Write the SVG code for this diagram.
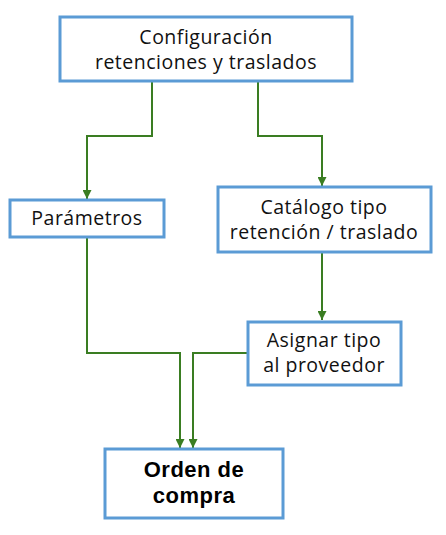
<svg xmlns="http://www.w3.org/2000/svg" width="446" height="535" viewBox="0 0 446 535">
<defs>
<style>
.box{fill:#fff;stroke:#5b9bd5;stroke-width:3}
.t{font-family:"Open Sans","Liberation Sans",sans-serif;font-size:19.5px;letter-spacing:0.5px;fill:#111;text-anchor:middle}
.b{font-family:"Liberation Sans",Arial,sans-serif;font-size:22px;letter-spacing:0.5px;font-weight:bold;fill:#000;text-anchor:middle}
.c{fill:none;stroke:#3a7d22;stroke-width:2}
</style>
<marker id="ah" viewBox="0 0 10 10" refX="10" refY="5" markerWidth="4.5" markerHeight="4.5" orient="auto" markerUnits="strokeWidth">
<path d="M0,0 L10,5 L0,10 z" fill="#3a7d22"/>
</marker>
</defs>
<rect width="446" height="535" fill="#fff"/>
<g id="connectors">
<path class="c" d="M152,82 V136 H87 V199" marker-end="url(#ah)"/>
<path class="c" d="M258,82 V136 H322 V186" marker-end="url(#ah)"/>
<path class="c" d="M322,252 V320" marker-end="url(#ah)"/>
<path class="c" d="M87,237 V353 H180 V448" marker-end="url(#ah)"/>
<path class="c" d="M248,353 H193 V448" marker-end="url(#ah)"/>
</g>
<g id="config">
<rect class="box" x="60" y="17" width="292" height="64"/>
<text class="t" x="206" y="44">Configuración</text>
<text class="t" x="206" y="69">retenciones y traslados</text>
</g>
<g id="parametros">
<rect class="box" x="10" y="200" width="154" height="37"/>
<text class="t" x="87" y="225">Parámetros</text>
</g>
<g id="catalogo">
<rect class="box" x="218" y="187" width="213" height="65"/>
<text class="t" x="324" y="214">Catálogo tipo</text>
<text class="t" x="324" y="239">retención / traslado</text>
</g>
<g id="asignar">
<rect class="box" x="248" y="322" width="153" height="63"/>
<text class="t" x="324" y="347">Asignar tipo</text>
<text class="t" x="324" y="372">al proveedor</text>
</g>
<g id="orden">
<rect class="box" x="105" y="449" width="178" height="69"/>
<text class="b" x="194" y="477">Orden de</text>
<text class="b" x="194" y="503">compra</text>
</g>
</svg>
